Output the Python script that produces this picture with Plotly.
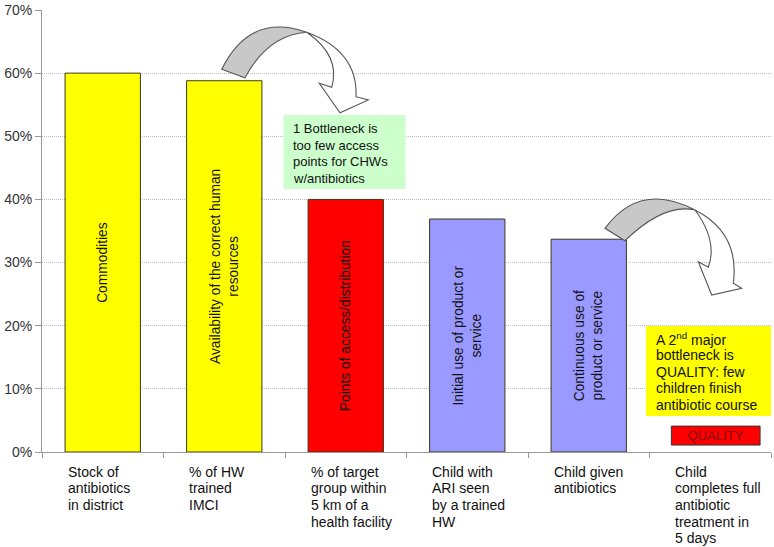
import plotly.graph_objects as go

# ---------------- data ----------------
categories = [
    "Stock of<br>antibiotics<br>in district",
    "% of HW<br>trained<br>IMCI",
    "% of target<br>group within<br>5 km of a<br>health facility",
    "Child with<br>ARI seen<br>by a trained<br>HW",
    "Child given<br>antibiotics",
    "Child<br>completes full<br>antibiotic<br>treatment in<br>5 days",
]
values = [60.0, 58.8, 40.0, 36.9, 33.7]
bar_labels = [
    "Commodities",
    "Availability of the correct human<br>resources",
    "Points of access/distribution",
    "Initial use of product or<br>service",
    "Continuous use of<br>product or service",
]
bar_colors = ["#ffff00", "#ffff00", "#ff0000", "#9999ff", "#9999ff"]
quality_base = 1.1
quality_value = 3.0
quality_label = "QUALITY"
y_ticks = [0, 10, 20, 30, 40, 50, 60, 70]
y_ticktext = [f"{v}%" for v in y_ticks]
note1 = "1 Bottleneck is<br>too few access<br>points for CHWs<br>w/antibiotics"
note2 = "A 2<sup>nd</sup> major<br>bottleneck is<br>QUALITY: few<br>children finish<br>antibiotic course"

FONT = "Arial, Liberation Sans, Helvetica, sans-serif"
W, H = 774, 547
L, R, T, B = 42, 771, 10, 452      # plot area in pixels


def px(x):
    return (x - L) / (R - L)


def py(y):
    return (B - y) / (B - T)


def P(x, y):
    return f"{px(x):.5f},{py(y):.5f}"


fig = go.Figure()
fig.add_trace(go.Bar(
    x=list(range(5)), y=values,
    marker=dict(color=bar_colors, line=dict(color="#3a3a1a", width=1)),
    width=0.62,
    text=bar_labels, textposition="inside", textangle=-90,
    insidetextanchor="middle",
    insidetextfont=dict(family=FONT, size=13.8, color="#111"),
    constraintext="none",
    hoverinfo="skip", showlegend=False,
))
fig.add_trace(go.Bar(
    x=[5], y=[quality_value], base=[quality_base],
    marker=dict(color="#ff0000", line=dict(color="#333", width=1)),
    width=0.73, offset=-0.32,
    text=[quality_label], textposition="inside", textangle=0,
    insidetextanchor="middle",
    insidetextfont=dict(family=FONT, size=13, color="#800000"),
    constraintext="none",
    hoverinfo="skip", showlegend=False,
))

shapes = []
shapes.append(dict(type="rect", xref="paper", yref="paper",
                   x0=px(283.5), x1=px(405.5), y0=py(189), y1=py(115),
                   fillcolor="#ccffcc", line=dict(width=0), layer="above"))
shapes.append(dict(type="rect", xref="paper", yref="paper",
                   x0=px(646), x1=px(771), y0=py(416), y1=py(326),
                   fillcolor="#ffff00", line=dict(width=0), layer="above"))


def arrow(g_out0, g_out_c, junc, g_in_c, g_in0, w_out_c, w_out1, rb, tip, lb, w_in0, w_in_c):
    gray = (f"M {P(*g_out0)} Q {P(*g_out_c)} {P(*junc)} "
            f"Q {P(*g_in_c)} {P(*g_in0)} Z")
    white = (f"M {P(*junc)} Q {P(*w_out_c)} {P(*w_out1)} L {P(*rb)} L {P(*tip)} "
             f"L {P(*lb)} L {P(*w_in0)} Q {P(*w_in_c)} {P(*junc)} Z")
    return [
        dict(type="path", xref="paper", yref="paper", path=gray,
             fillcolor="#c8c8c8", line=dict(color="#555", width=1.1), layer="above"),
        dict(type="path", xref="paper", yref="paper", path=white,
             fillcolor="#ffffff", line=dict(color="#555", width=1.1), layer="above"),
    ]


shapes += arrow((221.7, 69.3), (250, 12), (306.7, 32.3), (268, 35), (245, 77.7),
                (358, 51), (356, 96.7), (368.3, 100), (340, 112.7), (319.3, 83.3),
                (331.7, 87.3), (341, 56))
shapes += arrow((605, 228.3), (640, 181), (695, 210), (664, 203), (625, 240.7),
                (740, 233), (733.3, 283.3), (741.7, 288.3), (711.7, 295), (698.3, 261.7),
                (708.3, 267.3), (718, 241))

annotations = []


def add_lines(text, x, xref, xshift, y_first, spacing, size):
    for k, line in enumerate(text.split("<br>")):
        annotations.append(dict(
            x=x, xref=xref, xshift=xshift, xanchor="left",
            y=py(y_first + k * spacing), yref="paper", yanchor="middle",
            text=line, align="left", showarrow=False,
            font=dict(family=FONT, size=size, color="#111"),
        ))


for i, lab in enumerate(categories):
    add_lines(lab, i, "x", -37, 471.5, 16.67, 14)
add_lines(note1, px(290.5), "paper", 0, 128.5, 16.67, 13)
add_lines(note2, px(653.5), "paper", 0, 338.5, 16.5, 14)

fig.update_layout(
    width=W, height=H,
    margin=dict(l=L, r=W - R, t=T, b=H - B, pad=0),
    paper_bgcolor="white", plot_bgcolor="white",
    font=dict(family=FONT, size=14, color="#222"),
    xaxis=dict(
        type="linear", range=[-0.5, 5.5], showgrid=False, zeroline=False,
        showline=True, linecolor="#999", linewidth=1, automargin=False,
        tickmode="array", tickvals=[-0.5, 0.5, 1.5, 2.5, 3.5, 4.5, 5.5],
        ticks="outside", ticklen=5, tickcolor="#999",
        showticklabels=False,
    ),
    yaxis=dict(
        range=[0, 70], tickmode="array", tickvals=y_ticks, ticktext=y_ticktext,
        showgrid=True, gridcolor="#bdbdbd", griddash="1px,1px", gridwidth=1,
        zeroline=False, showline=True, linecolor="#999", linewidth=1,
        automargin=False, ticklabeloverflow="allow",
        ticks="outside", ticklen=6, tickcolor="#999",
        tickfont=dict(family=FONT, size=14, color="#333"),
    ),
    shapes=shapes, annotations=annotations,
)

fig.write_html("out.html", config={"displayModeBar": False},
               post_script="document.body.style.margin='0px';")
